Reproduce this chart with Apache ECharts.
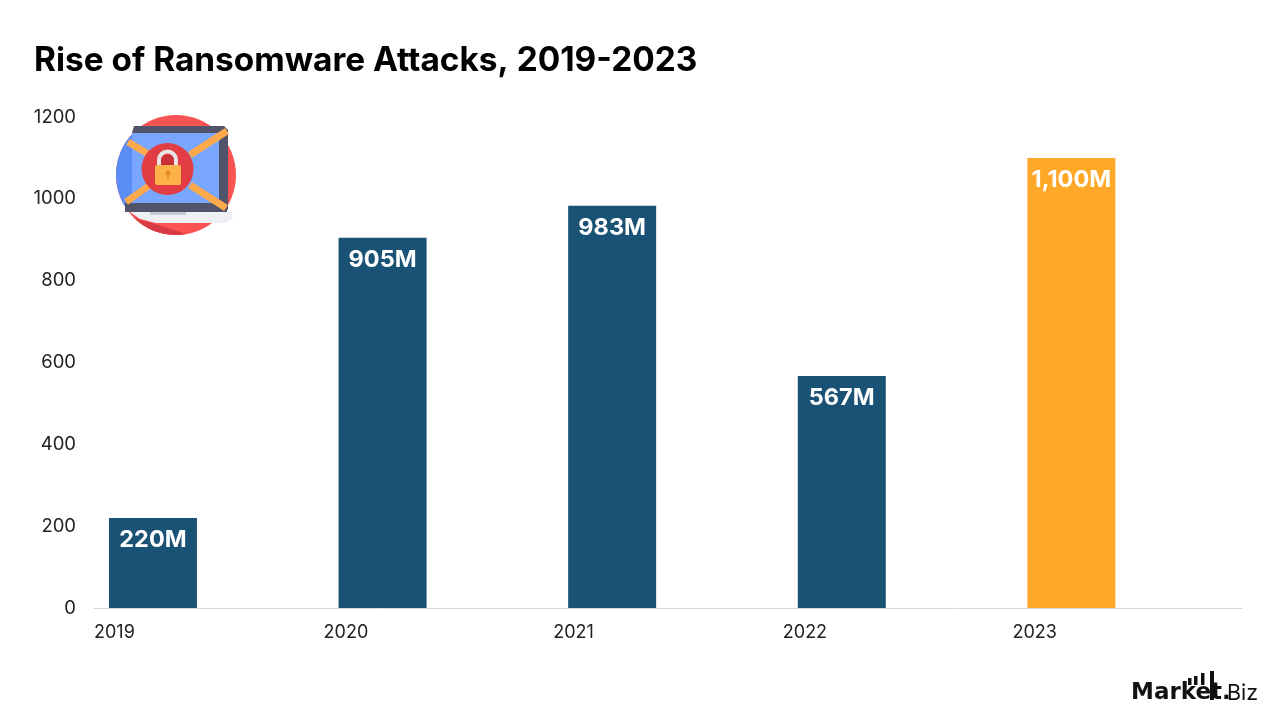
<!DOCTYPE html>
<html>
<head>
<meta charset="utf-8">
<style>html,body{margin:0;padding:0;background:#fff}#chart{width:1280px;height:720px}</style>
<script src="https://cdn.jsdelivr.net/npm/echarts@6/dist/echarts.min.js"></script>
</head>
<body>
<div id="chart"></div>
<script>
// Ransomware attack counts per year, in millions
const years = ['2019', '2020', '2021', '2022', '2023', ''];
const attacks = [220, 905, 983, 567, 1100, null];
const valueLabels = ['220M', '905M', '983M', '567M', '1,100M'];
const yTicks = { min: 0, max: 1200, interval: 200 };
const chartTitle = 'Rise of Ransomware Attacks, 2019-2023';

const FONT = 'Inter';
const NAVY = '#1a5276';
const AMBER = '#ffa726';

const chart = echarts.init(document.getElementById('chart'), null, { renderer: 'canvas' });

// Padlock-on-laptop badge
function badge() {
  const red = '#f95353', blue = '#5b8df6', screen = '#79a7ff', dark = '#50536a', orange = '#ffa94d';
  const cx = 176, cy = 175, r = 60;
  const band = (x1, y1, x2, y2) => ({
    type: 'line', shape: { x1, y1, x2, y2 }, style: { stroke: orange, lineWidth: 7 }
  });
  const poly = (points, fill) => ({ type: 'polygon', shape: { points }, style: { fill } });
  // Points along the disc's rim between two angles, counter-clockwise on screen
  const rimArc = (from, to) => {
    const pts = [];
    for (let a = from; a <= to; a += 5) {
      const t = a * Math.PI / 180;
      pts.push([cx + r * Math.cos(t), cy - r * Math.sin(t)]);
    }
    return pts;
  };
  return [
    { type: 'circle', shape: { cx, cy, r }, style: { fill: red } },
    poly(rimArc(129, 214).concat([[140, 208], [140, 128]]), blue),
    poly(rimArc(225, 280), '#d93a42'),
    { type: 'rect', shape: { x: 132, y: 133, width: 88, height: 71 }, style: { fill: screen } },
    poly([[134, 126], [224, 126], [228, 130], [228, 210], [219, 204], [219, 133], [132, 133]], dark),
    { type: 'rect', shape: { x: 125, y: 203, width: 102, height: 9 }, style: { fill: dark } },
    band(128, 142, 150, 155), band(227, 131, 190, 155),
    band(126, 202, 150, 185), band(226, 208, 190, 185),
    poly([[130, 212], [232, 212], [233, 218], [226, 223], [156, 223], [140, 219]], '#eff0f4'),
    { type: 'rect', shape: { x: 150, y: 212, width: 36, height: 3 }, style: { fill: '#c9cad3' } },
    { type: 'circle', shape: { cx: 167.5, cy: 169, r: 26 }, style: { fill: '#e23d42' } },
    { type: 'rect', shape: { x: 160, y: 155, width: 16, height: 14 }, style: { fill: '#c9303a' } },
    { type: 'arc', shape: { cx: 167.5, cy: 160, r: 8.5, startAngle: Math.PI, endAngle: 2 * Math.PI }, style: { stroke: '#e9e4e6', lineWidth: 4, fill: null } },
    { type: 'line', shape: { x1: 159, y1: 160, x2: 159, y2: 168 }, style: { stroke: '#e9e4e6', lineWidth: 4 } },
    { type: 'line', shape: { x1: 176, y1: 160, x2: 176, y2: 168 }, style: { stroke: '#e9e4e6', lineWidth: 4 } },
    { type: 'rect', shape: { x: 155, y: 165, width: 26, height: 20, r: 2 }, style: { fill: '#ffb14a' } },
    { type: 'circle', shape: { cx: 168, cy: 173, r: 2.5 }, style: { fill: '#e8872c' } },
    { type: 'rect', shape: { x: 167, y: 174, width: 2, height: 5 }, style: { fill: '#e8872c' } }
  ];
}

// Brand mark in the bottom corner
function brand() {
  const bar = (x, y, w, h) => ({ type: 'rect', shape: { x, y, width: w, height: h }, style: { fill: '#111' } });
  return [
    { type: 'text', x: 1131, y: 682, style: { text: 'Market.', font: '700 23px "DejaVu Sans"', fill: '#111' } },
    { type: 'text', x: 1227, y: 683, style: { text: 'Biz', font: '400 21.5px ' + FONT, fill: '#111' } },
    bar(1188, 678, 3.5, 7), bar(1194, 676, 3.5, 9), bar(1201, 673, 3.5, 12), bar(1210, 671, 4, 29)
  ];
}

chart.setOption({
  animation: false,
  backgroundColor: '#fff',
  title: {
    text: chartTitle, left: 34, top: 44, padding: 0,
    textStyle: { fontFamily: FONT, fontSize: 33.4, fontWeight: 700, color: '#000' }
  },
  grid: { left: 94, right: 38, top: 117, bottom: 112 },
  xAxis: {
    type: 'category', data: years, boundaryGap: false,
    axisLine: { lineStyle: { color: '#d9d9d9', width: 1 } },
    axisTick: { show: false },
    axisLabel: { align: 'left', margin: 16, fontFamily: FONT, fontSize: 18, color: '#222', showMaxLabel: true }
  },
  yAxis: {
    type: 'value', min: yTicks.min, max: yTicks.max, interval: yTicks.interval,
    axisLine: { show: false }, axisTick: { show: false }, splitLine: { show: false },
    axisLabel: { margin: 18, fontFamily: FONT, fontSize: 18.5, color: '#222', formatter: v => String(v) }
  },
  series: [
    // Empty slot that pushes the visible bars to the right of each tick
    { type: 'bar', data: years.map(() => null), barWidth: 88, barGap: '34%', silent: true },
    {
      type: 'bar', barWidth: 88, barGap: '34%',
      data: attacks.map((v, i) => ({
        value: v,
        itemStyle: { color: i === attacks.length - 2 ? AMBER : NAVY }
      })),
      label: {
        show: true, position: 'insideTop', distance: 10,
        formatter: p => valueLabels[p.dataIndex],
        fontFamily: FONT, fontSize: 23.5, fontWeight: 700, color: '#fff'
      }
    }
  ],
  graphic: { elements: badge().concat(brand()) }
});
</script>
</body>
</html>
